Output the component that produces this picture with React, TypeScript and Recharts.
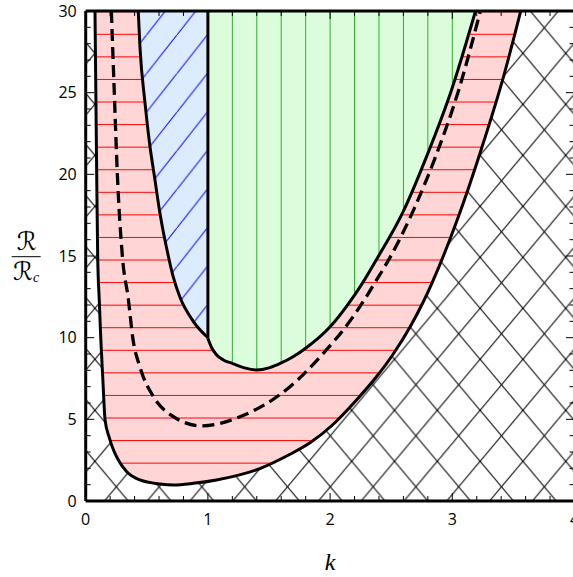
import React from 'react';
import { ComposedChart, Area, Line, XAxis, YAxis } from 'recharts';

// Outer stability boundary (lower edge of the pink balloon)
const outerK = [0.076, 0.083, 0.09, 0.098, 0.111, 0.123, 0.14, 0.158, 0.191, 0.2275, 0.267, 0.336, 0.444, 0.608, 0.72, 0.88, 1.07, 1.43, 1.672, 1.836, 2.026, 2.218, 2.381, 2.517, 2.654, 2.763, 2.831, 3.04, 3.24, 3.42, 3.56];
const outerR = [30, 25, 20, 15, 12.3, 10, 7.5, 5, 3.92, 3.12, 2.51, 1.79, 1.29, 1.04, 0.98, 1.08, 1.29, 2.0, 2.86, 3.56, 4.7, 6.2, 7.62, 9.0, 10.65, 12.2, 13.3, 17.2, 21.6, 26, 30];

// Dashed neutral curve
const dashK = [0.21, 0.234, 0.259, 0.3, 0.35, 0.385, 0.444, 0.553, 0.69, 0.95, 1.263, 1.672, 1.944, 2.149, 2.296, 2.372, 2.479, 2.688, 2.864, 3.054, 3.23];
const dashR = [30, 25, 20, 15, 12.3, 10, 8.2, 6.4, 5.3, 4.6, 5.16, 7.0, 9.04, 10.88, 12.5, 13.43, 14.76, 17.9, 21.1, 25.2, 30];

// Blue region lower-left boundary (k < 1)
const blueK = [0.43, 0.444, 0.485, 0.526, 0.56, 0.608, 0.676, 0.717, 0.77, 0.88, 1.0];
const blueR = [30, 27.8, 24.4, 21.7, 20, 17.6, 15, 13.7, 12.5, 11.0, 10.0];

// Green region lower boundary (k > 1)
const greenK = [1.0, 1.03, 1.07, 1.13, 1.2, 1.3, 1.4, 1.5, 1.6, 1.7, 1.808, 2.0, 2.19, 2.27, 2.381, 2.6, 2.79, 2.995, 3.19];
const greenR = [9.95, 9.4, 8.95, 8.62, 8.43, 8.15, 8.02, 8.15, 8.45, 8.85, 9.4, 10.67, 12.5, 13.4, 14.8, 17.75, 21.1, 25.2, 30];

// Vertical separator at k = 1
const sepK = [1, 1];
const sepR = [9.95, 30];

// Whole plot (cross-hatched background)
const fullK = [0, 4];

const xTicks = Array.from({ length: 21 }, (_, i) => Math.round(i * 2) / 10);
const yTicks = Array.from({ length: 31 }, (_, i) => i);

const R_TOP = 30;

const rangeRows = (ks: number[], rs: number[]) => ks.map((k, i) => ({ k, range: [rs[i], R_TOP] }));
const lineRows = (ks: number[], rs: number[]) => ks.map((k, i) => ({ k, r: rs[i] }));

const outerArea = rangeRows(outerK, outerR);
const blueArea = rangeRows(blueK, blueR);
const greenArea = rangeRows(greenK, greenR);
const fullArea = fullK.map((k) => ({ k, range: [0, R_TOP] }));

const outerLine = lineRows(outerK, outerR);
const blueLine = lineRows(blueK, blueR);
const greenLine = lineRows(greenK, greenR);
const sepLine = lineRows(sepK, sepR);
const dashLine = lineRows(dashK, dashR);

const TICK_FONT = '"Open Sans", "DejaVu Sans", sans-serif';

const isMajor = (v: number, step: number) => Math.abs(v / step - Math.round(v / step)) < 1e-6;

const BottomTick = (p: any) => {
  const { x, y, payload } = p;
  const v = payload.value;
  const major = isMajor(v, 1);
  return (
    <g>
      <line x1={x} y1={y} x2={x} y2={y - (major ? 8 : 5)} stroke="#000" strokeWidth={1} />
      {major && (
        <text x={x} y={y + 24} textAnchor="middle" fontFamily={TICK_FONT} fontSize={16} fill="#000">
          {Math.round(v)}
        </text>
      )}
    </g>
  );
};

const TopTick = (p: any) => {
  const { x, y, payload } = p;
  const major = isMajor(payload.value, 1);
  return <line x1={x} y1={y} x2={x} y2={y + (major ? 8 : 5)} stroke="#000" strokeWidth={1} />;
};

const LeftTick = (p: any) => {
  const { x, y, payload } = p;
  const v = payload.value;
  const major = isMajor(v, 5);
  return (
    <g>
      <line x1={x} y1={y} x2={x + (major ? 8.5 : 5)} y2={y} stroke="#000" strokeWidth={1} />
      {major && (
        <text x={x - 9} y={y + 5.7} textAnchor="end" fontFamily={TICK_FONT} fontSize={16} fill="#000">
          {v}
        </text>
      )}
    </g>
  );
};

const RightTick = (p: any) => {
  const { x, y, payload } = p;
  const major = isMajor(payload.value, 5);
  return <line x1={x} y1={y} x2={x - (major ? 8.5 : 5)} y2={y} stroke="#000" strokeWidth={1} />;
};

const KLabel = (p: any) => {
  const vb = p.viewBox || { x: 85.7, y: 501, width: 488.8, height: 76 };
  return (
    <text
      x={vb.x + vb.width / 2}
      y={vb.y + 69}
      textAnchor="middle"
      fontFamily='"Liberation Serif", "DejaVu Serif", serif'
      fontStyle="italic"
      fontSize={24}
      fill="#000"
    >
      k
    </text>
  );
};

const RLabel = (p: any) => {
  const vb = p.viewBox || { x: 0, y: 11, width: 85.7, height: 490 };
  const cx = 26.2;
  const barY = vb.y + vb.height / 2 + 0.7;
  const fam = '"DejaVu Sans", "DejaVu Serif", serif';
  return (
    <g>
      <text x={cx + 0.5} y={barY - 7} textAnchor="middle" fontFamily={fam} fontSize={25} fill="#000">
        ℛ
      </text>
      <line x1={cx - 14.5} y1={barY} x2={cx + 14.5} y2={barY} stroke="#000" strokeWidth={1} />
      <text x={cx} y={barY + 23} textAnchor="middle" fontFamily={fam} fontSize={25} fill="#000">
        ℛ
        <tspan fontSize={14} fontStyle="italic" fontFamily='"Liberation Serif", "DejaVu Serif", serif' dy={2}>
          c
        </tspan>
      </text>
    </g>
  );
};

const common = { xAxisId: 'b', yAxisId: 'l', isAnimationActive: false } as const;

export default function App() {
  return (
    <div style={{ position: 'fixed', left: 0, top: 0, width: 573, height: 577, overflow: 'hidden', background: '#fff' }}>
      <ComposedChart width={590} height={577} margin={{ top: 0, right: 0, bottom: 0, left: 0 }}>
        <defs>
          <pattern id="cross" patternUnits="userSpaceOnUse" x={9.3} y={53.3} width={42.8} height={51}>
            <rect x={0} y={0} width={42.8} height={51} fill="#ffffff" />
            <line x1={-4.28} y1={-5.1} x2={47.08} y2={56.1} stroke="#000" strokeWidth={1.1} />
            <line x1={47.08} y1={-5.1} x2={-4.28} y2={56.1} stroke="#000" strokeWidth={1.1} />
          </pattern>
          <pattern id="pink" patternUnits="userSpaceOnUse" x={0} y={0.45} width={20} height={22.57}>
            <rect x={0} y={0} width={20} height={22.57} fill="#ffd5d5" />
            <line x1={-1} y1={11.285} x2={21} y2={11.285} stroke="#ff0000" strokeWidth={1} />
          </pattern>
          <pattern id="green" patternUnits="userSpaceOnUse" x={73.48} y={0} width={24.44} height={20}>
            <rect x={0} y={0} width={24.44} height={20} fill="#dcfddc" />
            <line x1={12.22} y1={-1} x2={12.22} y2={21} stroke="#2eaa2e" strokeWidth={1} />
          </pattern>
          <pattern id="blue" patternUnits="userSpaceOnUse" x={24.9} y={35} width={30.4} height={38.6}>
            <rect x={0} y={0} width={30.4} height={38.6} fill="#dcebfd" />
            <line x1={-3.04} y1={42.46} x2={33.44} y2={-3.86} stroke="#0000ff" strokeWidth={1} />
          </pattern>
        </defs>

        <Area {...common} data={fullArea} dataKey="range" type="linear" fill="url(#cross)" fillOpacity={1} stroke="none" dot={false} activeDot={false} />
        <Area {...common} data={outerArea} dataKey="range" type="monotone" fill="url(#pink)" fillOpacity={1} stroke="none" dot={false} activeDot={false} />
        <Area {...common} data={blueArea} dataKey="range" type="monotone" fill="url(#blue)" fillOpacity={1} stroke="none" dot={false} activeDot={false} />
        <Area {...common} data={greenArea} dataKey="range" type="monotone" fill="url(#green)" fillOpacity={1} stroke="none" dot={false} activeDot={false} />

        <Line {...common} data={outerLine} dataKey="r" type="monotone" stroke="#000" strokeWidth={3} dot={false} activeDot={false} />
        <Line {...common} data={blueLine} dataKey="r" type="monotone" stroke="#000" strokeWidth={3} dot={false} activeDot={false} />
        <Line {...common} data={greenLine} dataKey="r" type="monotone" stroke="#000" strokeWidth={3} dot={false} activeDot={false} />
        <Line {...common} data={sepLine} dataKey="r" type="linear" stroke="#000" strokeWidth={3} dot={false} activeDot={false} />
        <Line {...common} data={dashLine} dataKey="r" type="monotone" stroke="#000" strokeWidth={3.3} strokeDasharray="12 6" dot={false} activeDot={false} />

        <XAxis
          xAxisId="b"
          type="number"
          dataKey="k"
          orientation="bottom"
          domain={[0, 4]}
          allowDataOverflow
          ticks={xTicks}
          interval={0}
          height={76}
          tickSize={0}
          tickMargin={0}
          tickLine={false}
          axisLine={{ stroke: '#000', strokeWidth: 3 }}
          tick={BottomTick}
          label={<KLabel />}
        />
        <XAxis
          xAxisId="t"
          type="number"
          dataKey="k"
          orientation="top"
          domain={[0, 4]}
          allowDataOverflow
          ticks={xTicks}
          interval={0}
          height={11}
          tickSize={0}
          tickMargin={0}
          tickLine={false}
          axisLine={{ stroke: '#000', strokeWidth: 3 }}
          tick={TopTick}
        />
        <YAxis
          yAxisId="l"
          type="number"
          orientation="left"
          domain={[0, 30]}
          allowDataOverflow
          ticks={yTicks}
          interval={0}
          width={85.7}
          tickSize={0}
          tickMargin={0}
          tickLine={false}
          axisLine={{ stroke: '#000', strokeWidth: 3 }}
          tick={LeftTick}
          label={<RLabel />}
        />
        <YAxis
          yAxisId="r"
          type="number"
          orientation="right"
          domain={[0, 30]}
          allowDataOverflow
          ticks={yTicks}
          interval={0}
          width={15.5}
          tickSize={0}
          tickMargin={0}
          tickLine={false}
          axisLine={{ stroke: '#000', strokeWidth: 3 }}
          tick={RightTick}
        />
      </ComposedChart>
    </div>
  );
}
